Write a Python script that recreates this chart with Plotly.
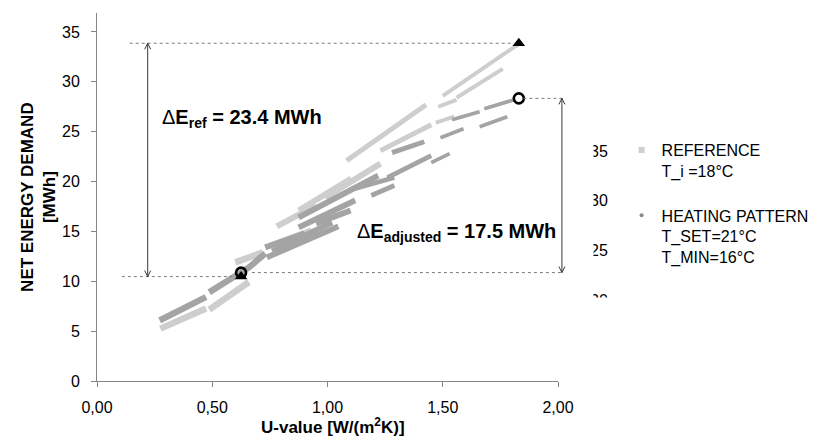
import plotly.graph_objects as go

# ---------------- data ----------------
x_tick_vals = [0.0, 0.5, 1.0, 1.5, 2.0]
x_tick_text = ["0,00", "0,50", "1,00", "1,50", "2,00"]
y_tick_vals = [0, 5, 10, 15, 20, 25, 30, 35]
y_tick_text = ["0", "5", "10", "15", "20", "25", "30", "35"]

# REFERENCE (T_i = 18 °C) point streaks: U-value [W/(m2K)] vs net energy demand [MWh]
ref_u = [0.275, 0.473, None, 0.487, 0.659, None, 0.60, 0.72, None, 0.73, 0.93, None,
         0.78, 0.95, None, 0.875, 1.103, None, 0.99, 1.23, None, 1.083, 1.428, None,
         1.23, 1.45, None, 1.47, 1.55, None, 1.48, 1.56, None, 1.50, 1.83, None, 1.56, 1.76]
ref_e = [5.25, 7.26, None, 7.16, 9.93, None, 11.9, 12.9, None, 13.4, 15.1, None,
         15.5, 17.6, None, 17.1, 20.3, None, 18.4, 21.8, None, 22.1, 27.7, None,
         23.1, 25.7, None, 25.9, 26.5, None, 27.5, 28.2, None, 28.6, 33.8, None, 28.4, 31.3]

# HEATING PATTERN (T_SET = 21 °C, T_MIN = 16 °C) point streaks
heat_u = [0.272, 0.473, None, 0.487, 0.66, 0.73, None, 0.737, 1.047, None, 0.76, 1.02, None,
          0.73, 0.90, None, 0.875, 1.12, None, 0.875, 1.22, None, 0.95, 1.10, None,
          1.19, 1.29, None, 1.09, 1.29, None, 1.26, 1.45, None, 1.45, 1.53, None,
          1.28, 1.42, None, 1.49, 1.59, None, 1.54, 1.66, None, 1.66, 1.78, None, 1.68, 1.81]
heat_e = [6.08, 8.42, None, 8.9, 11.4, 12.8, None, 12.4, 15.5, None, 13.0, 15.9, None,
          13.4, 14.8, None, 15.4, 18.1, None, 16.4, 20.6, None, 15.8, 17.1, None,
          18.6, 19.6, None, 19.1, 20.4, None, 20.4, 22.6, None, 21.9, 22.8, None,
          22.9, 24.0, None, 24.4, 25.3, None, 26.2, 27.0, None, 25.5, 26.5, None, 27.3, 28.2]

# extremes (triangles: reference, circles: adjusted)
ref_ext_u = [0.625, 1.83]
ref_ext_e = [10.47, 33.87]
adj_ext_u = [0.625, 1.83]
adj_ext_e = [10.87, 28.34]
delta_ref = 23.4
delta_adj = 17.5

# stray, partly hidden tick labels visible beside the legend in the reference
ghost_labels = ["35", "30", "25", "20"]
ghost_values = [35, 30, 25, 20]

FONT = "Liberation Sans, Arial, sans-serif"
LIGHT = "#cecece"
DARK = "#a4a4a4"
AXIS = "#868686"
DASH = "#7a7a7a"
ARROW = "#3a3a3a"

X_MAX = 2.0
Y_MAX = 36.9
BODY = 8  # default page body margin of the html page


def split_streaks(us, es):
    out, cu, ce = [], [], []
    for u, e in zip(us, es):
        if u is None:
            out.append((cu, ce))
            cu, ce = [], []
        else:
            cu.append(u)
            ce.append(e)
    if cu:
        out.append((cu, ce))
    return out


def streak_width(u0, base):
    # streaks are thicker in the dense lower-left part of the cloud
    if u0 < 0.7:
        return base + 1.5
    if u0 < 1.0:
        return base + 1.0
    if u0 < 1.3:
        return base
    return base - 1.0


fig = go.Figure()

for su, se in split_streaks(ref_u, ref_e):
    fig.add_trace(go.Scatter(x=su, y=se, mode="lines",
                             line=dict(color=LIGHT, width=streak_width(su[0], 5)),
                             showlegend=False, legendgroup="ref", hoverinfo="skip"))
for su, se in split_streaks(heat_u, heat_e):
    fig.add_trace(go.Scatter(x=su, y=se, mode="lines",
                             line=dict(color=DARK, width=streak_width(su[0], 4.8)),
                             showlegend=False, legendgroup="heat", hoverinfo="skip"))

# legend entries
fig.add_trace(go.Scatter(x=[None], y=[None], mode="markers", legendgroup="ref",
                         name="REFERENCE<br>T_i =18°C<br> ",
                         marker=dict(symbol="square", size=6, color=LIGHT)))
fig.add_trace(go.Scatter(x=[None], y=[None], mode="markers", legendgroup="heat",
                         name="HEATING PATTERN<br>T_SET=21°C<br>T_MIN=16°C",
                         marker=dict(symbol="circle", size=4, color="#8a8a8a")))

fig.add_trace(go.Scatter(x=ref_ext_u, y=ref_ext_e, mode="markers", showlegend=False,
                         marker=dict(symbol="triangle-up", size=11, color="black")))
fig.add_trace(go.Scatter(x=adj_ext_u, y=adj_ext_e, mode="markers", showlegend=False,
                         marker=dict(symbol="circle-open", size=10, color="black",
                                     line=dict(width=2.6, color="black"))))


def px(u):
    return u / X_MAX  # data x -> paper x


shapes = []
dash_line = dict(color=DASH, width=1, dash="dot")
# horizontal guide lines
shapes.append(dict(type="line", xref="x", yref="y", x0=0.142, x1=ref_ext_u[1] - 0.02,
                   y0=ref_ext_e[1], y1=ref_ext_e[1], line=dash_line))
shapes.append(dict(type="line", xref="paper", yref="y", x0=px(adj_ext_u[1] + 0.02), x1=px(2.02),
                   y0=adj_ext_e[1], y1=adj_ext_e[1], line=dash_line))
shapes.append(dict(type="line", xref="x", yref="y", x0=0.108, x1=ref_ext_u[0] - 0.04,
                   y0=ref_ext_e[0], y1=ref_ext_e[0], line=dash_line))
shapes.append(dict(type="line", xref="paper", yref="y", x0=px(adj_ext_u[0] + 0.047), x1=px(2.02),
                   y0=adj_ext_e[0], y1=adj_ext_e[0], line=dash_line))

# vertical double arrows
arrow_line = dict(color=ARROW, width=1)
left_x = 0.22
right_x = 2.017
shapes.append(dict(type="line", xref="x", yref="y", x0=left_x, x1=left_x,
                   y0=ref_ext_e[0], y1=ref_ext_e[1], line=arrow_line))
shapes.append(dict(type="line", xref="paper", yref="y", x0=px(right_x), x1=px(right_x),
                   y0=adj_ext_e[0], y1=adj_ext_e[1], line=arrow_line))
for xr, xa, ytop, ybot in [("x", left_x, ref_ext_e[1], ref_ext_e[0]),
                           ("paper", px(right_x), adj_ext_e[1], adj_ext_e[0])]:
    shapes.append(dict(type="path", xref=xr, yref="y", xsizemode="pixel", ysizemode="pixel",
                       xanchor=xa, yanchor=ytop, path="M-3,-6 L0,0 L3,-6", line=arrow_line))
    shapes.append(dict(type="path", xref=xr, yref="y", xsizemode="pixel", ysizemode="pixel",
                       xanchor=xa, yanchor=ybot, path="M-3,6 L0,0 L3,6", line=arrow_line))

annotations = []
annotations.append(dict(xref="x", yref="y", x=0.2716, y=26.3, xanchor="left", yanchor="middle",
                        showarrow=False,
                        text="Δ<b>E<sub>ref</sub> = %.1f MWh</b>" % delta_ref,
                        font=dict(family=FONT, size=20, color="black")))
annotations.append(dict(xref="x", yref="y", x=1.121, y=14.9, xanchor="left", yanchor="middle",
                        showarrow=False,
                        text="Δ<b>E<sub>adjusted</sub> = %.1f MWh</b>" % delta_adj,
                        font=dict(family=FONT, size=20, color="black")))

# axis titles (placed as rotated / centred texts for exact positioning)
annotations.append(dict(xref="paper", yref="paper", x=(37.5 - 97) / 464, y=1 - (197 - 13) / 368,
                        xanchor="center", yanchor="middle", showarrow=False, textangle=-90,
                        text="<b>NET ENERGY DEMAND<br>[MWh]</b>",
                        font=dict(family=FONT, size=17, color="black")))
annotations.append(dict(xref="paper", yref="paper", x=(335 - 97) / 464, y=1 - (438 - 13) / 368,
                        xanchor="center", yanchor="bottom", showarrow=False, borderpad=0,
                        text="<b>U-value [W/(m<sup>2</sup>K)]</b>",
                        font=dict(family=FONT, size=17, color="black")))

# ghost tick labels (shifted copy of the y axis labels), partially covered
ghost_shift = 11.95
for lab, v in zip(ghost_labels, ghost_values):
    annotations.append(dict(xref="paper", yref="y", x=(612 - 97) / 464, y=v - ghost_shift,
                            xanchor="right", yanchor="middle", showarrow=False, text=lab,
                            borderpad=0, font=dict(family=FONT, size=16, color="black")))
# covers
annotations.append(dict(xref="paper", yref="paper", x=(597 - 97) / 464, y=1 - (225 - 13) / 368,
                        xanchor="right", yanchor="middle", showarrow=False, text=" ",
                        width=22, height=190, bgcolor="white", borderpad=0))
annotations.append(dict(xref="paper", yref="paper", x=(605 - 97) / 464, y=1 - (297 - 13) / 368,
                        xanchor="center", yanchor="top", showarrow=False, text=" ",
                        width=40, height=24, bgcolor="white", borderpad=0))

fig.update_layout(
    width=819 - BODY, height=438 - BODY, autosize=False,
    margin=dict(l=97 - BODY, r=258, t=13 - BODY, b=57, pad=0),
    paper_bgcolor="white", plot_bgcolor="white",
    font=dict(family=FONT, size=16, color="black"),
    showlegend=True,
    legend=dict(x=(625 - 97) / 464, y=1 - (133 - 13) / 368, xanchor="left", yanchor="top",
                valign="top",
                font=dict(family=FONT, size=16, color="black"), bgcolor="rgba(255,255,255,0)",
                tracegroupgap=0, itemsizing="trace", borderwidth=0),
    shapes=shapes,
    annotations=annotations,
)
fig.update_xaxes(range=[0, X_MAX], tickvals=x_tick_vals, ticktext=x_tick_text, automargin=False,
                 showline=True, linecolor=AXIS, linewidth=1, ticks="outside", ticklen=5,
                 tickcolor=AXIS, showgrid=False, zeroline=False,
                 tickfont=dict(family=FONT, size=16, color="black"), ticklabelstandoff=7)
fig.update_yaxes(range=[0, Y_MAX], tickvals=y_tick_vals, ticktext=y_tick_text, automargin=False,
                 showline=True, linecolor=AXIS, linewidth=1, ticks="outside", ticklen=5,
                 tickcolor=AXIS, showgrid=False, zeroline=False,
                 tickfont=dict(family=FONT, size=16, color="black"), ticklabelstandoff=8)

fig.write_html("out.html")
